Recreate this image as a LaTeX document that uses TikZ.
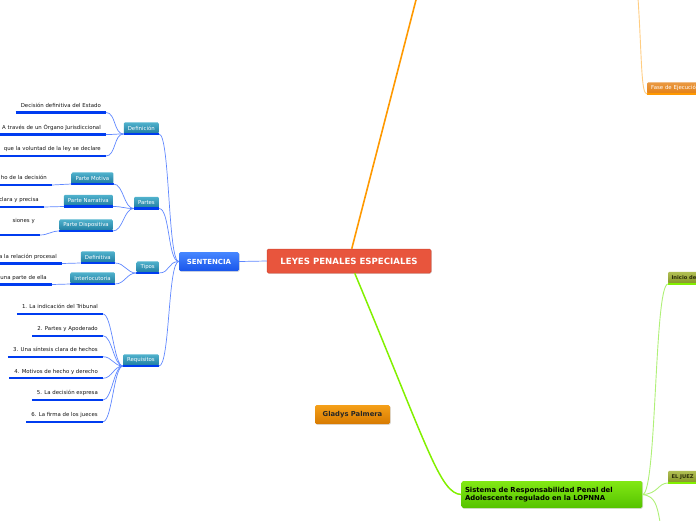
\documentclass[tikz,border=0pt]{standalone}
\usepackage{fontspec}
\setmainfont{DejaVu Sans}
\usetikzlibrary{shadows}

\definecolor{mapRoot}{RGB}{232,85,61}
\definecolor{mapRootBorder}{RGB}{210,70,48}
\definecolor{mapTopicTop}{RGB}{70,135,255}
\definecolor{mapTopicBottom}{RGB}{25,85,235}
\definecolor{mapSubTop}{RGB}{80,178,205}
\definecolor{mapSubBottom}{RGB}{30,124,160}
\definecolor{mapUnder}{RGB}{0,60,240}
\definecolor{mapLink}{RGB}{95,135,255}
\definecolor{mapLeafText}{RGB}{20,20,20}
\definecolor{mapOrange}{RGB}{255,153,0}
\definecolor{mapOrangePale}{RGB}{255,205,130}
\definecolor{mapFase}{RGB}{228,128,20}
\definecolor{mapGladysTop}{RGB}{245,160,25}
\definecolor{mapGladysBottom}{RGB}{215,122,0}
\definecolor{mapGreen}{RGB}{130,240,0}
\definecolor{mapGreenPale}{RGB}{175,240,120}
\definecolor{mapGreenTop}{RGB}{130,232,20}
\definecolor{mapGreenBottom}{RGB}{85,195,0}
\definecolor{mapOliveTop}{RGB}{178,192,85}
\definecolor{mapOliveBottom}{RGB}{132,148,38}
\definecolor{mapOliveText}{RGB}{45,45,10}

\newcommand{\mapLeafFont}{\fontsize{5.4}{6.4}\selectfont}
\newcommand{\mapSubFont}{\fontsize{5.4}{6.4}\selectfont}

\begin{document}
\begin{tikzpicture}[x=1pt,y=-1pt,
      root/.style={fill=mapRoot, draw=mapRootBorder, line width=.5pt,
        text=white, font=\fontsize{8.6}{10}\selectfont\bfseries,
        minimum width=164pt, minimum height=24pt, rounded corners=1.5pt,
        drop shadow={opacity=.25, shadow xshift=.8pt, shadow yshift=-.8pt}},
      topic/.style={top color=mapTopicTop, bottom color=mapTopicBottom,
        text=white, font=\fontsize{7}{8}\selectfont\bfseries,
        minimum width=60pt, minimum height=19pt, rounded corners=1.5pt,
        drop shadow={opacity=.25, shadow xshift=.8pt, shadow yshift=-.8pt}},
      sub/.style={top color=mapSubTop, bottom color=mapSubBottom,
        text=white, font=\mapSubFont, anchor=south east,
        inner xsep=4pt, minimum height=11.5pt, inner ysep=0pt,
        rounded corners=1.2pt},
      leaf/.style={font=\mapLeafFont, text=mapLeafText, anchor=south east,
        inner xsep=5pt, inner ysep=3.6pt, text depth=1.3pt},
      cut/.style={text width=110pt, align=right},
      under/.style={draw=mapUnder, line width=2.2pt},
      link/.style={draw=mapLink, line width=.7pt},
      gladys/.style={top color=mapGladysTop, bottom color=mapGladysBottom,
        text=black!85, font=\fontsize{6.8}{8}\selectfont\bfseries,
        minimum width=75pt, minimum height=19pt, rounded corners=1.5pt,
        drop shadow={opacity=.25, shadow xshift=.8pt, shadow yshift=-.8pt}},
      block/.style={top color=mapGreenTop, bottom color=mapGreenBottom,
        text=black, font=\fontsize{6.9}{7.8}\selectfont\bfseries,
        text width=174pt, align=left, minimum height=27pt,
        rounded corners=1.5pt,
        drop shadow={opacity=.25, shadow xshift=.8pt, shadow yshift=-.8pt}},
      olive/.style={top color=mapOliveTop, bottom color=mapOliveBottom,
        text=mapOliveText, font=\fontsize{5.2}{6.2}\selectfont\bfseries,
        anchor=south west, text width=40pt, align=left,
        minimum height=12pt, inner ysep=0pt, rounded corners=1.2pt}]
      \useasboundingbox (0,0) rectangle (696,520);
      \clip (0,0) rectangle (696,520);

      \node[root] (root) at (349,261) {LEYES PENALES ESPECIALES};
      \node[topic] (sent) at (209,261.5) {SENTENCIA};
      \node[gladys] (author) at (352.5,414.5) {Gladys Palmera};
      \node[block] (srpa) at (552,494.5)
        {Sistema de Responsabilidad Penal del\\Adolescente regulado en la LOPNNA};

      \node[sub] (def) at (159,134) {Definición};
      \node[sub] (partes) at (159,208.5) {Partes};
      \node[sub] (tipos) at (159,273) {Tipos};
      \node[sub] (req) at (159,366) {Requisitos};
      \node[sub] (motiva) at (113.5,184) {Parte Motiva};
      \node[sub] (narr) at (113,206.5) {Parte Narrativa};
      \node[sub] (disp) at (113,231) {Parte Dispositiva};
      \node[sub] (defin) at (115,263) {Definitiva};
      \node[sub] (inter) at (115,284) {Interlocutoria};

      \node[leaf] (d1) at (106,112.5) {Decisión definitiva del Estado};
      \node[leaf, cut] (d2) at (106,134.5)
        {A través de un Órgano Jurisdiccional};
      \node[leaf, cut] (d3) at (106,156)
        {que la voluntad de la ley se declare};
      \node[leaf, cut] (m1) at (52,185) {ho de la decisión};
      \node[leaf, cut] (n1) at (44,207) {clara y precisa};
      \node[leaf, cut, text depth=9pt] (p1) at (40,235) {siones y};
      \node[leaf, cut] (t1) at (62,263.5) {a la relación procesal};
      \node[leaf, cut] (t2) at (52,284.5) {una parte de ella};
      \node[leaf] (r1) at (103,314) {1. La indicación del Tribunal};
      \node[leaf] (r2) at (103,335.7) {2. Partes y Apoderado};
      \node[leaf] (r3) at (103,356.7) {3. Una síntesis clara de hechos};
      \node[leaf] (r4) at (103,378.3) {4. Motivos de hecho y derecho};
      \node[leaf] (r5) at (103,400) {5. La decisión expresa};
      \node[leaf] (r6) at (103,421.7) {6. La firma de los jueces};

      \node[sub, anchor=south west, top color=mapFase!80!white,
        bottom color=mapFase, text width=60pt, align=left] (fase) at (647,94)
        {Fase de Ejecución};
      \node[olive] (inicio) at (668,284) {Inicio de};
      \node[olive] (juez) at (668,483) {EL JUEZ};

      \coordinate (offTop) at (416.5,-2);
      \coordinate (offFase) at (638,-2);
      \coordinate (offBottom) at (660,522);

      \foreach \n in {def,partes,tipos,req,motiva,narr,disp,defin,inter,
          d1,d2,d3,m1,n1,p1,t1,t2,r1,r2,r3,r4,r5,r6}
        \draw[under] (\n.south west) -- (\n.south east);
      \draw[mapOrange, line width=1.5pt] (fase.south west) -- (fase.south east);
      \draw[mapGreen, line width=2pt] (inicio.south west) -- (inicio.south east);
      \draw[mapGreen, line width=2pt] (juez.south west) -- (juez.south east);

      \draw[link] (sent.east) -- (root.west);
      \foreach \n in {def,partes,tipos,req}
        \draw[link] (\n.south east) to[out=0,in=180,distance=11pt] (sent.west);
      \foreach \n in {d1,d2,d3}
        \draw[link] (\n.south east) to[out=0,in=180,distance=10pt] (def.south west);
      \foreach \n in {motiva,narr,disp}
        \draw[link] (\n.south east) to[out=0,in=180,distance=10pt] (partes.south west);
      \draw[link] (m1.south east) -- (motiva.south west);
      \draw[link] (n1.south east) -- (narr.south west);
      \draw[link] (p1.south east) to[out=0,in=180,distance=8pt] (disp.south west);
      \foreach \n in {defin,inter}
        \draw[link] (\n.south east) to[out=0,in=180,distance=10pt] (tipos.south west);
      \draw[link] (t1.south east) -- (defin.south west);
      \draw[link] (t2.south east) -- (inter.south west);
      \foreach \n in {r1,r2,r3,r4,r5,r6}
        \draw[link] (\n.south east) to[out=0,in=180,distance=9pt] (req.south west);

      \draw[mapOrange, line width=1.6pt] ([xshift=85pt]root.north west) -- (offTop);
      \draw[mapOrangePale, line width=.9pt] (offFase)
        .. controls (642,60) and (641,94) .. (fase.south west);
      \draw[mapGreen, line width=1.5pt] ([xshift=88pt]root.south west)
        .. controls (428,448) and (440,494) .. (srpa.west);
      \draw[mapGreenPale, line width=.9pt] (srpa.east)
        .. controls (657,494) and (654,284) .. (inicio.south west);
      \draw[mapGreenPale, line width=.9pt] (srpa.east)
        .. controls (658,494) and (658,483) .. (juez.south west);
      \draw[mapGreenPale, line width=.9pt] (srpa.east)
        .. controls (655,496) and (657,505) .. (offBottom);
    \end{tikzpicture}
\end{document}
